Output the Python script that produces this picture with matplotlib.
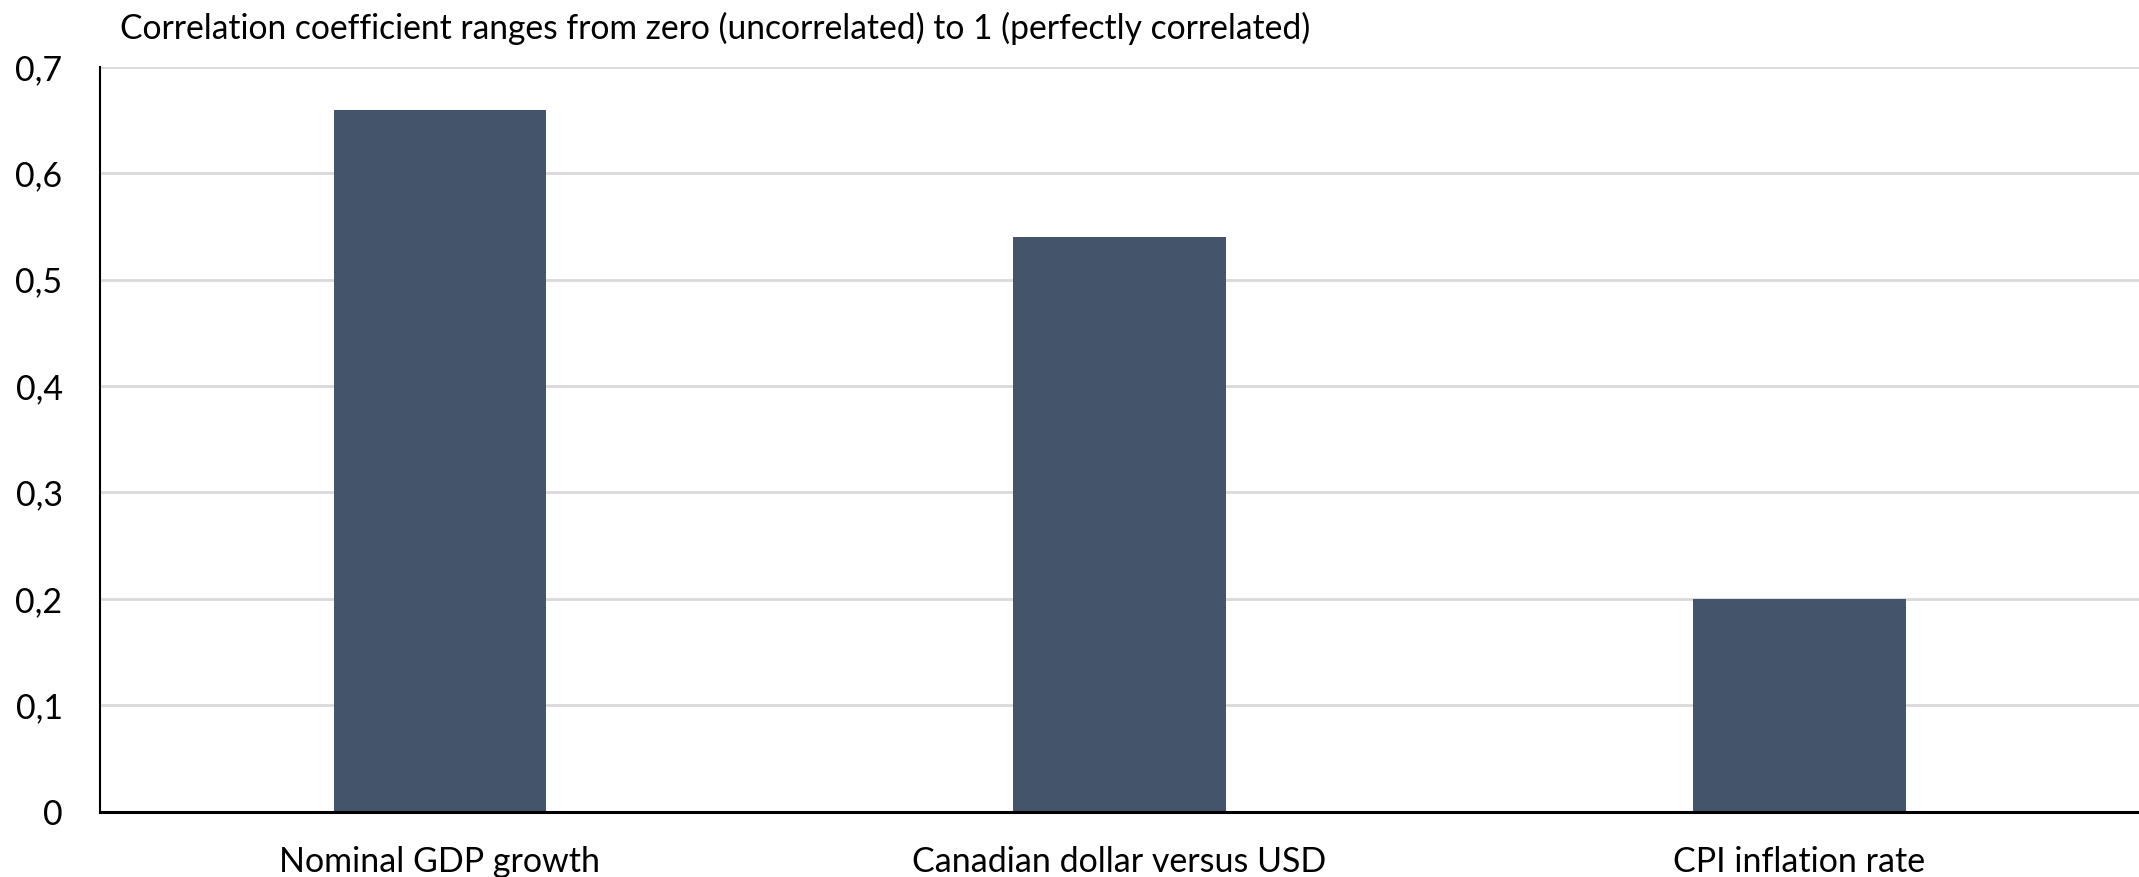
import matplotlib.pyplot as plt
from matplotlib.ticker import FuncFormatter

categories = ['Nominal GDP growth', 'Canadian dollar versus USD', 'CPI inflation rate']
correlation = [0.66, 0.54, 0.20]
y_ticks = [0, 0.1, 0.2, 0.3, 0.4, 0.5, 0.6, 0.7]
title = 'Correlation coefficient ranges from zero (uncorrelated) to 1 (perfectly correlated)'

plt.rcParams['font.family'] = ['Lato', 'DejaVu Sans']

fig = plt.figure(figsize=(21.39, 8.77), dpi=100)
ax = fig.add_axes([0.0468, 0.0746, 0.9532, 0.849])

x = range(len(categories))
ax.bar(x, correlation, width=0.313, color='#44546a', zorder=3)

ax.set_xlim(-0.5, 2.5)
ax.set_ylim(0, 0.7)
ax.set_yticks(y_ticks)
ax.yaxis.set_major_formatter(FuncFormatter(lambda v, p: '0' if v == 0 else f'{v:.1f}'.replace('.', ',')))
ax.set_xticks(list(x))
ax.set_xticklabels(categories)
ax.tick_params(axis='both', length=0, labelsize=24.5, colors='black')
ax.tick_params(axis='x', pad=25)
ax.tick_params(axis='y', pad=27)

ax.grid(axis='y', color='#d9d9d9', linewidth=2, zorder=0)
for side in ['top', 'right']:
    ax.spines[side].set_visible(False)
ax.spines['left'].set_color('black')
ax.spines['left'].set_linewidth(1.5)
ax.spines['bottom'].set_color('black')
ax.spines['bottom'].set_linewidth(2.2)
ax.spines['bottom'].set_zorder(4)

fig.text(120 / 2139, 1 - 28 / 877, title, fontsize=24.2, va='center', ha='left')

fig.savefig('out.png', dpi=100)
